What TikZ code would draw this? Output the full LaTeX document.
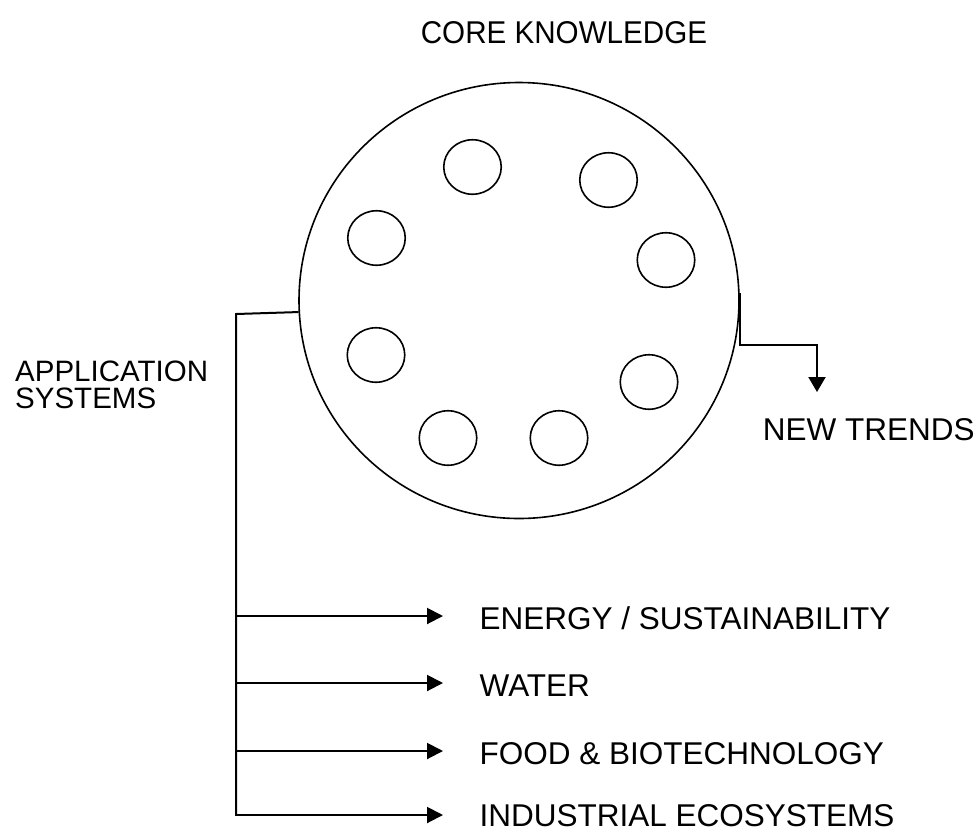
\documentclass[tikz,border=0pt]{standalone}
\usepackage{fontspec}
\setmainfont{Liberation Sans}
\usetikzlibrary{arrows.meta,shapes.geometric}
\begin{document}
\begin{tikzpicture}[x=1pt,y=-1pt,
  lbl/.style={inner sep=0pt,anchor=base west,font=\fontsize{31.5}{25.5}\selectfont},
  small/.style={draw,ellipse,line width=1.6pt,minimum width=57.5pt,minimum height=54.5pt,inner sep=0pt},
  big/.style={draw,ellipse,line width=1.6pt,minimum width=440pt,minimum height=436pt,inner sep=0pt},
  conn/.style={line width=2pt},
  arr/.style={conn,-{Triangle[length=16pt,width=16pt]}}]
\useasboundingbox (0,0) rectangle (980,831);

% big circle
\node[big] (C) at (519,300.5) {};

% small circles
\node[small] (s1) at (472.5,167) {};
\node[small] (s2) at (608.5,180) {};
\node[small] (s3) at (376.5,238) {};
\node[small] (s4) at (666,260) {};
\node[small] (s5) at (376,355) {};
\node[small] (s6) at (649,382) {};
\node[small] (s7) at (448,438) {};
\node[small] (s8) at (559,438) {};

% labels
\node[inner sep=0pt,anchor=base,font=\fontsize{31.5}{25.5}\selectfont] (core) at (564,43) {\scalebox{0.94}[1]{CORE KNOWLEDGE}};
\node[lbl,align=left,font=\fontsize{29.5}{27}\selectfont] (app) at (15,408) {APPLICATION\\SYSTEMS};
\node[lbl] (trends) at (762.6,440) {NEW TRENDS};
\node[lbl] (energy) at (479.5,629) {ENERGY / SUSTAINABILITY};
\node[lbl] (water) at (479.5,696) {WATER};
\node[lbl] (food) at (479.5,764) {FOOD \& BIOTECHNOLOGY};
\node[lbl] (indus) at (479.5,826) {INDUSTRIAL ECOSYSTEMS};

% left connector (application systems)
\coordinate (tTop) at (236,314);
\coordinate (b1) at (236,616);
\coordinate (b2) at (236,683);
\coordinate (b3) at (236,751);
\coordinate (b4) at (236,815);
\coordinate (e1) at (443,616);
\coordinate (e2) at (443,683);
\coordinate (e3) at (443,751);
\coordinate (e4) at (443,815);
\draw[conn,line join=miter] (C.183.4) -- (tTop) -- (b4);
\draw[arr] (b1) -- (e1);
\draw[arr] (b2) -- (e2);
\draw[arr] (b3) -- (e3);
\draw[arr,line join=miter] ([xshift=-1pt]b4) -- (e4);

% right connector (new trends)
\coordinate (rTop) at (C.2.9);
\coordinate (rCorner) at (rTop |- 0,345);
\coordinate (rTurn) at (817,345);
\coordinate (rEnd) at (817,392);
\draw[conn,-{Triangle[length=15pt,width=17pt]},line join=miter] (rTop) -- (rCorner) -- (rTurn) -- (rEnd);
\end{tikzpicture}
\end{document}
